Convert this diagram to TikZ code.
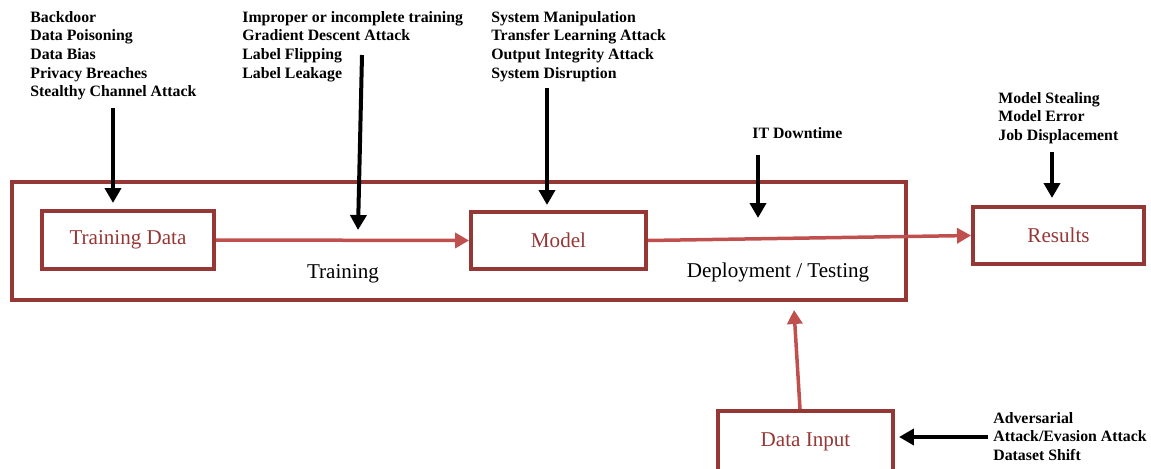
\documentclass[tikz,border=0pt]{standalone}
\usepackage{fontspec}
\setmainfont{Liberation Serif}
\usetikzlibrary{arrows.meta}
\definecolor{boxred}{HTML}{953735}
\definecolor{linkred}{HTML}{C0504D}
\begin{document}
\begin{tikzpicture}[x=0.02cm,y=-0.02cm]
        % Styles
        \tikzstyle{stage box}=[draw=boxred,line width=0.08cm,text=boxred,inner sep=0pt,font=\fontsize{12}{14}\selectfont]
        \tikzstyle{phase text}=[inner sep=0pt,font=\fontsize{12}{14}\selectfont]
        \tikzstyle{threat text}=[anchor=north west,align=left,inner sep=0pt,font=\bfseries\fontsize{9}{10.6}\selectfont]
        \tikzstyle{flow line}=[linkred,line width=0.07cm,-{Triangle[width=0.3cm,length=0.28cm]}]
        \tikzstyle{threat line}=[black,line width=0.08cm,-{Triangle[width=0.32cm,length=0.3cm]}]
        \useasboundingbox (0,0) rectangle (1151,469);
        %The graphic
        %frame and stages
        \node[stage box,minimum width=17.88cm,minimum height=2.36cm] (frame) at (459,241) {};
        \node[stage box,minimum width=3.44cm,minimum height=1.16cm] (train) at (128,240) {Training Data};
        \node[stage box,minimum width=3.5cm,minimum height=1.14cm] (model) at (558.5,240.5) {Model};
        \node[stage box,minimum width=3.42cm,minimum height=1.14cm] (results) at (1058.5,235.5) {Results};
        \node[stage box,minimum width=3.5cm,minimum height=1.24cm] (input) at (805.5,442) {Data Input};
        \node[phase text] (training) at (343,274) {Training};
        \node[phase text] (deploy) at (778,272) {Deployment / Testing};
        %threats
        \node[threat text] (t1) at (30,11) {Backdoor\\Data Poisoning\\Data Bias\\Privacy Breaches\\Stealthy Channel Attack};
        \node[threat text] (t2) at (242,11) {Improper or incomplete training\\Gradient Descent Attack\\Label Flipping\\Label Leakage};
        \node[threat text] (t3) at (491,11) {System Manipulation\\Transfer Learning Attack\\Output Integrity Attack\\System Disruption};
        \node[threat text] (t4) at (752,127) {IT Downtime};
        \node[threat text] (t5) at (998,92) {Model Stealing\\Model Error\\Job Displacement};
        \node[threat text] (t6) at (993,412) {Adversarial\\Attack/Evasion Attack\\Dataset Shift};
        %flow
        \draw[flow line] (train.east) -- (model.west);
        \draw[flow line] (model.east) -- (results.west);
        \coordinate (inputend) at (794,310);
        \draw[flow line] (input.north -| 800,0) -- (inputend);
        %attacks
        \coordinate (s1) at (113,108);
        \coordinate (s2) at (362,55);
        \coordinate (e2) at (358,230);
        \coordinate (s3) at (547,88);
        \coordinate (s4) at (758,155);
        \coordinate (e4) at (758,218);
        \coordinate (s5) at (1052,152);
        \coordinate (s6) at (988,437);
        \draw[threat line,shorten >=0.12cm] (s1) -- (train.north -| s1);
        \draw[threat line] (s2) -- (e2);
        \draw[threat line,shorten >=0.1cm] (s3) -- (model.north -| s3);
        \draw[threat line] (s4) -- (e4);
        \draw[threat line,shorten >=0.14cm] (s5) -- (results.north -| s5);
        \draw[threat line,shorten >=0.08cm] (s6) -- (input.east |- s6);
\end{tikzpicture}
\end{document}
